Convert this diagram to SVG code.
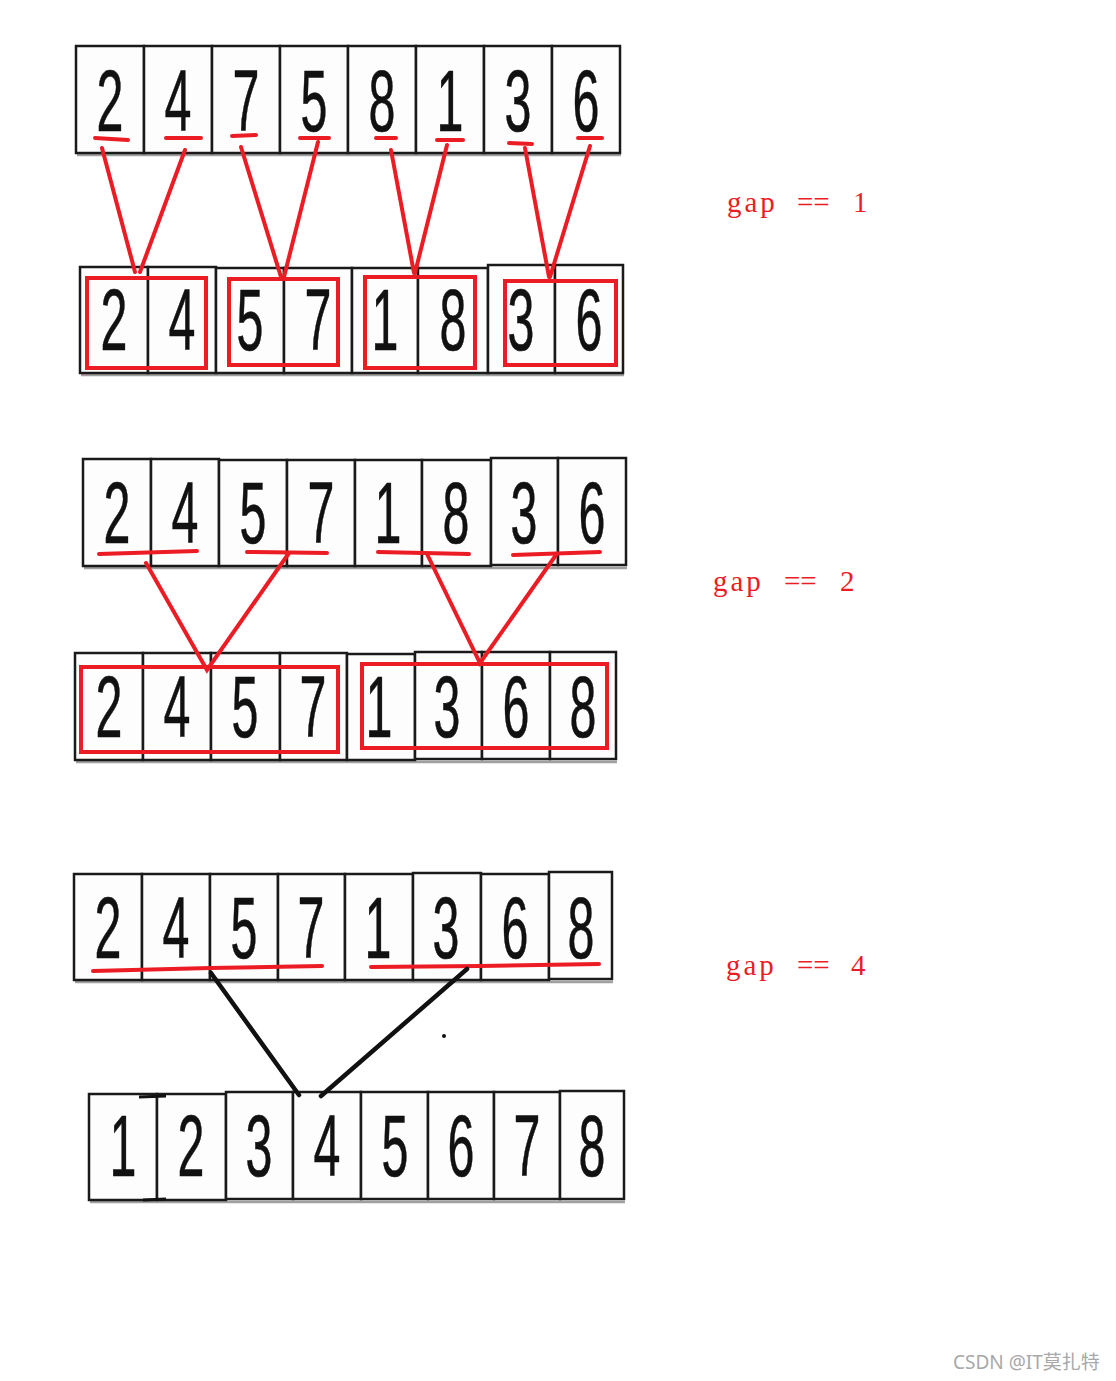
<svg xmlns="http://www.w3.org/2000/svg" width="1116" height="1381" viewBox="0 0 1116 1381">
<style>
.cell{fill:#fdfdfd;stroke:#1a1a1a;stroke-width:2.5}
.sh{stroke:#a0a0a0;stroke-width:2.5}
.d{font-family:"Liberation Sans",Arial,sans-serif;font-size:88px;fill:#111;stroke:#111;stroke-width:0.6;text-anchor:middle}
.red{fill:none;stroke:#ec1c24;stroke-width:4;stroke-linecap:round}
.blk{fill:none;stroke:#111;stroke-width:4.5;stroke-linecap:round}
.gap{font-family:"Liberation Serif","Times New Roman",serif;font-size:29px;fill:#ec1c24}
.g3{letter-spacing:3px}
.wm{font-family:"Noto Sans","Noto Sans CJK SC",sans-serif;font-size:19px;fill:#a8a8a8}
</style>
<rect width="1116" height="1381" fill="#fff"/>

<g id="row1">
<line class="sh" x1="77" y1="155" x2="621" y2="155"/>
<rect class="cell" x="76" y="46" width="68" height="107"/><rect class="cell" x="144" y="46" width="68" height="107"/><rect class="cell" x="212" y="46" width="68" height="107"/><rect class="cell" x="280" y="46" width="68" height="107"/><rect class="cell" x="348" y="46" width="68" height="107"/><rect class="cell" x="416" y="46" width="68" height="107"/><rect class="cell" x="484" y="46" width="68" height="107"/><rect class="cell" x="552" y="46" width="68" height="107"/>
<text class="d" transform="translate(110,131) scale(0.55,1)">2</text><text class="d" transform="translate(178,131) scale(0.55,1)">4</text><text class="d" transform="translate(246,131) scale(0.55,1)">7</text><text class="d" transform="translate(314,131) scale(0.55,1)">5</text><text class="d" transform="translate(382,131) scale(0.55,1)">8</text><text class="d" transform="translate(450,131) scale(0.55,1)">1</text><text class="d" transform="translate(518,131) scale(0.55,1)">3</text><text class="d" transform="translate(586,131) scale(0.55,1)">6</text>
</g>

<g id="row2">
<line class="sh" x1="81" y1="375" x2="624" y2="375"/>
<rect class="cell" x="80" y="267" width="68" height="106"/><rect class="cell" x="148" y="267" width="68" height="106"/><rect class="cell" x="216" y="268" width="68" height="105"/><rect class="cell" x="284" y="268" width="68" height="105"/><rect class="cell" x="352" y="268" width="66" height="105"/><rect class="cell" x="418" y="268" width="70" height="105"/><rect class="cell" x="488" y="265" width="67" height="108"/><rect class="cell" x="555" y="265" width="68" height="108"/>
<text class="d" transform="translate(114,350) scale(0.55,1)">2</text><text class="d" transform="translate(182,350) scale(0.55,1)">4</text><text class="d" transform="translate(250,350) scale(0.55,1)">5</text><text class="d" transform="translate(318,350) scale(0.55,1)">7</text><text class="d" transform="translate(385,350) scale(0.55,1)">1</text><text class="d" transform="translate(453,350) scale(0.55,1)">8</text><text class="d" transform="translate(521,350) scale(0.55,1)">3</text><text class="d" transform="translate(589,350) scale(0.55,1)">6</text>
<rect class="red" x="87" y="278" width="119" height="90"/>
<rect class="red" x="229" y="279" width="109" height="86"/>
<rect class="red" x="365" y="277" width="110" height="91"/>
<rect class="red" x="505" y="281" width="111" height="84"/>
</g>

<g id="row3">
<line class="sh" x1="84" y1="568" x2="627" y2="568"/>
<rect class="cell" x="83" y="459" width="68" height="107"/><rect class="cell" x="151" y="459" width="68" height="107"/><rect class="cell" x="219" y="460" width="68" height="106"/><rect class="cell" x="287" y="460" width="68" height="106"/><rect class="cell" x="355" y="460" width="67" height="106"/><rect class="cell" x="422" y="460" width="69" height="106"/><rect class="cell" x="491" y="458" width="67" height="107"/><rect class="cell" x="558" y="458" width="68" height="107"/>
<text class="d" transform="translate(117,543) scale(0.55,1)">2</text><text class="d" transform="translate(185,543) scale(0.55,1)">4</text><text class="d" transform="translate(253,543) scale(0.55,1)">5</text><text class="d" transform="translate(321,543) scale(0.55,1)">7</text><text class="d" transform="translate(388,543) scale(0.55,1)">1</text><text class="d" transform="translate(456,543) scale(0.55,1)">8</text><text class="d" transform="translate(524,543) scale(0.55,1)">3</text><text class="d" transform="translate(592,543) scale(0.55,1)">6</text>
<path class="red" d="M99,554 L197,551 M247,552 L327,553 M378,552 L469,554 M513,555 L600,552"/>
</g>

<g id="row4">
<line class="sh" x1="76" y1="762" x2="617" y2="762"/>
<rect class="cell" x="75" y="653" width="68" height="107"/><rect class="cell" x="143" y="653" width="68" height="107"/><rect class="cell" x="211" y="653" width="69" height="107"/><rect class="cell" x="280" y="653" width="67" height="107"/><rect class="cell" x="347" y="654" width="68" height="106"/><rect class="cell" x="415" y="652" width="67" height="107"/><rect class="cell" x="482" y="652" width="68" height="107"/><rect class="cell" x="550" y="652" width="66" height="107"/>
<text class="d" transform="translate(109,737) scale(0.55,1)">2</text><text class="d" transform="translate(177,737) scale(0.55,1)">4</text><text class="d" transform="translate(245,737) scale(0.55,1)">5</text><text class="d" transform="translate(313,737) scale(0.55,1)">7</text><text class="d" transform="translate(379,737) scale(0.55,1)">1</text><text class="d" transform="translate(447,737) scale(0.55,1)">3</text><text class="d" transform="translate(516,737) scale(0.55,1)">6</text><text class="d" transform="translate(583,737) scale(0.55,1)">8</text>
<rect class="red" x="81" y="667" width="257" height="85"/>
<rect class="red" x="362" y="664" width="245" height="84"/>
</g>

<g id="row5">
<line class="sh" x1="75" y1="982" x2="613" y2="982"/>
<rect class="cell" x="74" y="874" width="68" height="106"/><rect class="cell" x="142" y="874" width="68" height="106"/><rect class="cell" x="210" y="874" width="68" height="106"/><rect class="cell" x="278" y="874" width="67" height="106"/><rect class="cell" x="345" y="874" width="68" height="106"/><rect class="cell" x="413" y="873" width="68" height="107"/><rect class="cell" x="481" y="874" width="68" height="106"/><rect class="cell" x="549" y="872" width="63" height="107"/>
<text class="d" transform="translate(108,958) scale(0.55,1)">2</text><text class="d" transform="translate(176,958) scale(0.55,1)">4</text><text class="d" transform="translate(244,958) scale(0.55,1)">5</text><text class="d" transform="translate(311,958) scale(0.55,1)">7</text><text class="d" transform="translate(378,958) scale(0.55,1)">1</text><text class="d" transform="translate(446,958) scale(0.55,1)">3</text><text class="d" transform="translate(515,958) scale(0.55,1)">6</text><text class="d" transform="translate(581,958) scale(0.55,1)">8</text>
<path class="red" d="M93,971 L210,968 L322,966 M371,967 L480,966 L599,964"/>
</g>

<g id="row6">
<line class="sh" x1="90" y1="1202" x2="625" y2="1202"/>
<rect class="cell" x="89" y="1094" width="68" height="106"/><rect class="cell" x="157" y="1094" width="69" height="106"/><rect class="cell" x="226" y="1092" width="67" height="107"/><rect class="cell" x="293" y="1092" width="68" height="107"/><rect class="cell" x="361" y="1092" width="67" height="107"/><rect class="cell" x="428" y="1092" width="66" height="107"/><rect class="cell" x="494" y="1092" width="66" height="107"/><rect class="cell" x="560" y="1091" width="64" height="108"/>
<text class="d" transform="translate(123,1176) scale(0.55,1)">1</text><text class="d" transform="translate(191,1176) scale(0.55,1)">2</text><text class="d" transform="translate(259,1176) scale(0.55,1)">3</text><text class="d" transform="translate(327,1176) scale(0.55,1)">4</text><text class="d" transform="translate(395,1176) scale(0.55,1)">5</text><text class="d" transform="translate(461,1176) scale(0.55,1)">6</text><text class="d" transform="translate(527,1176) scale(0.55,1)">7</text><text class="d" transform="translate(592,1176) scale(0.55,1)">8</text>
<path d="M139,1097 L166,1096 M143,1200 L166,1199" stroke="#111" stroke-width="3" fill="none"/>
</g>

<g id="connectors">
<path class="red" d="M95,138 L128,140 M166,138 L201,138 M232,136 L256,135 M300,138 L329,138 M376,138 L396,138 M437,140 L463,140 M509,143 L532,144 M578,138 L602,138"/>
<path class="red" d="M102,148 L135,272 M185,150 L140,272 M241,147 L281,277 M318,142 L284,277 M391,150 L414,273 M447,145 L415,273 M525,148 L549,277 M590,146 L550,277"/>
<path class="red" d="M146,563 L207,670 L289,553 M427,554 L480,663 L556,555"/>
<path class="blk" d="M211,973 L299,1095 M467,969 L321,1096"/>
<circle cx="444" cy="1036" r="2" fill="#111"/>
</g>

<g id="labels">
<text class="gap"><tspan class="g3" x="727" y="212">gap</tspan><tspan x="797" y="212">==</tspan><tspan x="853" y="212">1</tspan></text>
<text class="gap"><tspan class="g3" x="713" y="591">gap</tspan><tspan x="784" y="591">==</tspan><tspan x="840" y="591">2</tspan></text>
<text class="gap"><tspan class="g3" x="726" y="975">gap</tspan><tspan x="797" y="975">==</tspan><tspan x="851" y="975">4</tspan></text>
<text class="wm" x="953" y="1369">CSDN @IT莫扎特</text>
</g>
</svg>
